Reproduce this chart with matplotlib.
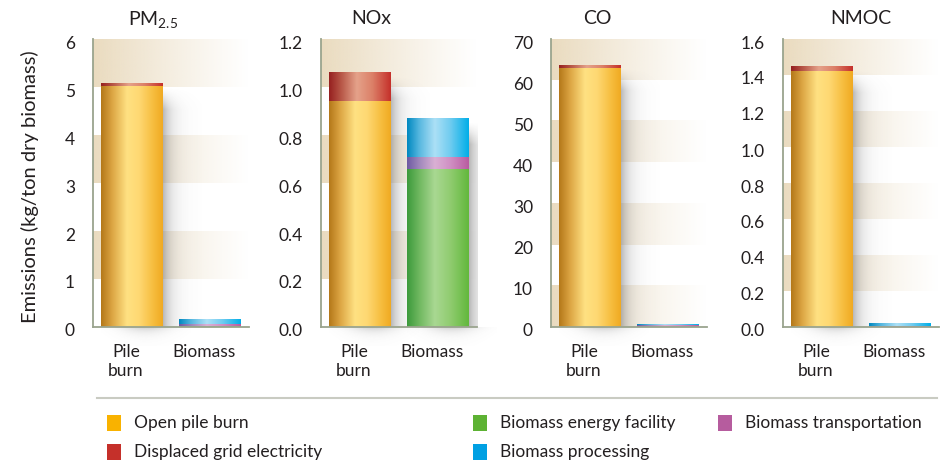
import numpy as np
import matplotlib
matplotlib.use("Agg")
import matplotlib.pyplot as plt
from matplotlib.colors import LinearSegmentedColormap, to_rgb
from matplotlib.patches import Rectangle
from matplotlib.transforms import ScaledTranslation

plt.rcParams['font.family'] = ['Lato', 'DejaVu Sans']
plt.rcParams['mathtext.fontset'] = 'custom'
plt.rcParams['mathtext.rm'] = 'Lato'
plt.rcParams['mathtext.default'] = 'regular'

# ---------------- data ----------------
pollutants = ["PM$_{2.5}$", "NOx", "CO", "NMOC"]
categories = ["Pile\nburn", "Biomass"]
ymax = [6, 1.2, 70, 1.6]
ystep = [1, 0.2, 10, 0.2]
ydecimals = [0, 1, 0, 1]

# Pile burn scenario
open_pile_burn = [5.02, 0.94, 63.0, 1.42]
displaced_grid = [0.06, 0.12, 0.7, 0.025]
# Biomass scenario
biomass_energy = [0.03, 0.66, 0.05, 0.002]
biomass_transport = [0.03, 0.05, 0.5, 0.004]
biomass_processing = [0.085, 0.16, 0.05, 0.013]

legend_labels = ["Open pile burn", "Displaced grid electricity",
                 "Biomass energy facility", "Biomass processing",
                 "Biomass transportation"]
legend_colors = ["#F9B200", "#C5302A", "#5DB233", "#00A0E3", "#B65C9E"]

# gradient colour stops per series (left-dark, light centre, right)
grad = {
    "open": [(0, "#B47819"), (0.18, "#DCA543"), (0.42, "#FFE182"), (0.62, "#FED872"), (0.85, "#F6BC3D"), (1, "#F0AA22")],
    "grid": [(0, "#962020"), (0.2, "#B85848"), (0.45, "#E5A28A"), (0.7, "#DC8068"), (1, "#C5302A")],
    "energy": [(0, "#3C9A3C"), (0.2, "#70B860"), (0.45, "#A9D892"), (0.7, "#90CC70"), (1, "#62B83C")],
    "transport": [(0, "#6E5AA2"), (0.2, "#A088BC"), (0.45, "#DAB0D4"), (0.7, "#D090C4"), (1, "#B95CA0")],
    "processing": [(0, "#0088C0"), (0.2, "#58B8E0"), (0.45, "#ACE0F6"), (0.7, "#70CCF0"), (1, "#00AEE8")],
}
cmaps = {k: LinearSegmentedColormap.from_list(k, v) for k, v in grad.items()}

fig = plt.figure(figsize=(9.43, 4.61), dpi=100)
W, H = 943, 461

ax_left_px = [93, 321, 551, 783]
ax_w_px = 156
ax_bottom_px = 327
ax_top_px = 39
ax_h_px = ax_bottom_px - ax_top_px
title_x_px = [153, 371, 597, 861]

bar_w = 0.79
grad_img = np.linspace(0, 1, 256).reshape(1, -1)

band_color = to_rgb("#EADBBF")


def draw_seg(ax, xc, bottom, height, key):
    if height <= 0:
        return
    ax.imshow(grad_img, cmap=cmaps[key], aspect='auto', interpolation='bilinear',
              extent=(xc - bar_w / 2, xc + bar_w / 2, bottom, bottom + height), zorder=3)


def draw_shadow(ax, xc, top, ym):
    if top < 0.05 * ym:
        return
    top_px = top / ym * ax_h_px
    nx, ny = 80, 200
    xs = np.linspace(0, 1, nx)
    ys_px = np.linspace(top_px, 0, ny)  # row 0 at top
    X, Ypx = np.meshgrid(xs, ys_px)
    fade_top = np.clip((top_px - 4 - Ypx) / 22.0, 0, 1)
    a = 0.48 * np.exp(-4.5 * X) * fade_top ** 1.2
    img = np.zeros((ny, nx, 4))
    img[..., :3] = 0.42
    img[..., 3] = a
    x0 = xc + bar_w / 2
    ax.imshow(img, aspect='auto', interpolation='bilinear', origin='upper',
              extent=(x0, x0 + 0.5, 0, top), zorder=2)
    # soft shadow below the baseline
    nx2, ny2 = 80, 30
    xs2 = np.linspace(-1, 1, nx2)
    ys2 = np.linspace(0, 1, ny2)
    X2, Y2 = np.meshgrid(xs2, ys2)
    a2 = 0.3 * np.exp(-(X2 ** 2) / 0.3) * np.exp(-3.5 * Y2)
    img2 = np.zeros((ny2, nx2, 4))
    img2[..., :3] = 0.4
    img2[..., 3] = a2
    im = ax.imshow(img2, aspect='auto', interpolation='bilinear', origin='upper',
                   extent=(xc - 0.4, xc + 0.75, -0.065 * ym, 0), zorder=1)
    im.set_clip_on(False)


for i, name in enumerate(pollutants):
    ax = fig.add_axes([ax_left_px[i] / W, 1 - ax_bottom_px / H,
                       ax_w_px / W, ax_h_px / H])
    ym = ymax[i]
    st = ystep[i]
    # background bands (alternating, starting at the top)
    nb = int(round(ym / st))
    band = np.zeros((1, 256, 4))
    band[..., :3] = band_color
    band[..., 3] = np.linspace(1, 0, 256) ** 1.1
    for k in range(0, nb, 2):
        top = ym - k * st
        ax.imshow(band, aspect='auto', interpolation='bilinear',
                  extent=(-0.5, 1.5, top - st, top), zorder=0)

    # pile burn bar
    b1 = open_pile_burn[i]
    draw_shadow(ax, 0, b1 + displaced_grid[i], ym)
    draw_seg(ax, 0, 0, b1, "open")
    draw_seg(ax, 0, b1, displaced_grid[i], "grid")
    # biomass bar
    e, t, p = biomass_energy[i], biomass_transport[i], biomass_processing[i]
    draw_shadow(ax, 1, e + t + p, ym)
    draw_seg(ax, 1, 0, e, "energy")
    draw_seg(ax, 1, e, t, "transport")
    draw_seg(ax, 1, e + t, p, "processing")

    ax.set_xlim(-0.5, 1.5)
    ax.set_ylim(0, ym)
    ticks = np.arange(0, nb + 1) * st
    ax.set_yticks(ticks)
    ax.set_yticklabels([f"{v:.{ydecimals[i]}f}" for v in ticks])
    ax.set_xticks([0, 1])
    ax.set_xticklabels(categories, linespacing=1.25)
    ax.tick_params(axis='both', length=0, labelsize=12.5, colors='#231F20')
    ax.tick_params(axis='y', pad=13)
    ax.tick_params(axis='x', pad=12)
    off_y = ScaledTranslation(0, -3 / 100, fig.dpi_scale_trans)
    for lab in ax.get_yticklabels():
        lab.set_transform(lab.get_transform() + off_y)
    off_x = ScaledTranslation(-6 / 100, 0, fig.dpi_scale_trans)
    for lab in ax.get_xticklabels():
        lab.set_transform(lab.get_transform() + off_x)
    for s in ['top', 'right']:
        ax.spines[s].set_visible(False)
    for s in ['left', 'bottom']:
        ax.spines[s].set_color('#9AA48E')
        ax.spines[s].set_linewidth(1.3)
        ax.spines[s].set_zorder(5)
    ax.set_facecolor('white')

    fig.text(title_x_px[i] / W, 1 - 19 / H, name, ha='center', va='center',
             fontsize=14, color='#231F20')

fig.text(30 / W, 1 - 187 / H, "Emissions (kg/ton dry biomass)", rotation=90,
         ha='center', va='center', fontsize=14.5, color='#231F20')

# separator line
fig.add_artist(plt.Line2D([97 / W, 937 / W], [1 - 398 / H, 1 - 398 / H],
                          color='#C9CBC2', lw=1.5))

# legend
leg_pos = [(107, 423), (107, 452), (473, 423), (473, 452), (718, 423)]
for (lx, ly), lab, col in zip(leg_pos, legend_labels, legend_colors):
    fig.add_artist(Rectangle((lx / W, 1 - (ly + 8) / H), 14 / W, 16 / H,
                             transform=fig.transFigure, facecolor=col, edgecolor='none'))
    fig.text((lx + 27) / W, 1 - ly / H, lab, ha='left', va='center',
             fontsize=12.5, color='#231F20')

fig.savefig("out.png", dpi=100)
